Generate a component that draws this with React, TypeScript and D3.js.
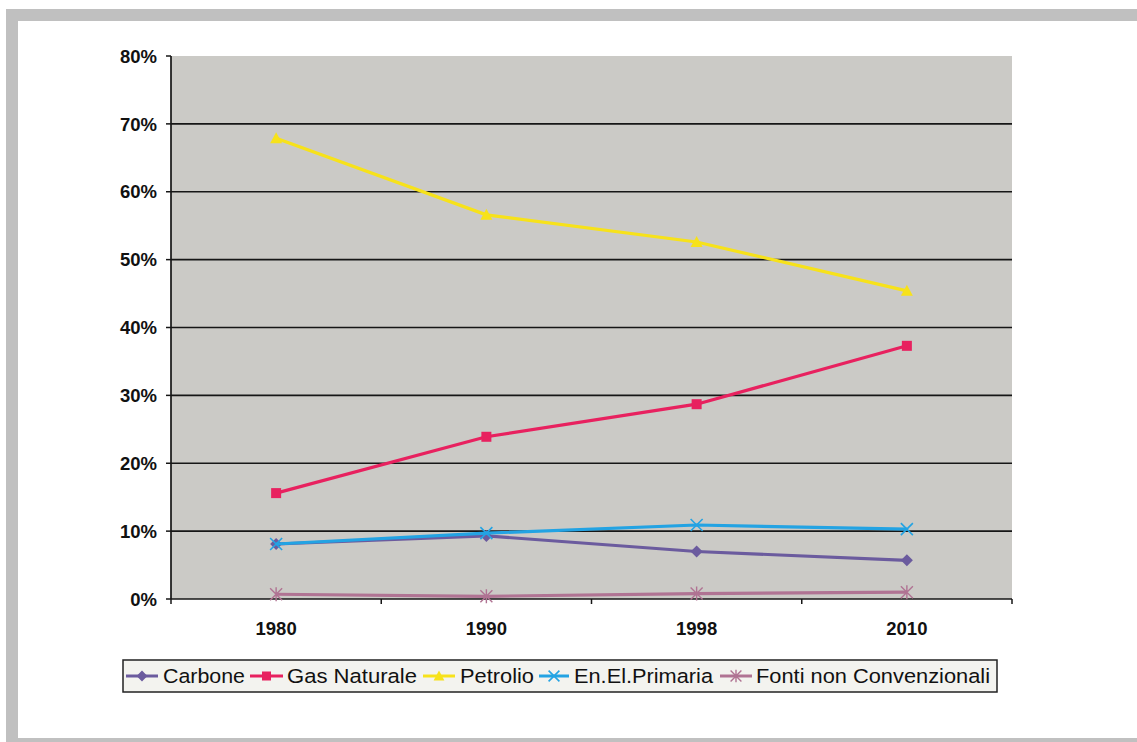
import React from "react";
import * as d3 from "d3";

// Quota delle fonti energetiche per anno
const years = ["1980", "1990", "1998", "2010"];
const carbone = [0.081, 0.093, 0.07, 0.057];
const gasNaturale = [0.156, 0.239, 0.287, 0.373];
const petrolio = [0.679, 0.566, 0.526, 0.454];
const enElPrimaria = [0.081, 0.097, 0.109, 0.103];
const fontiNonConv = [0.007, 0.004, 0.008, 0.01];
const yTicks = [0, 0.1, 0.2, 0.3, 0.4, 0.5, 0.6, 0.7, 0.8];

type Marker = "diamond" | "square" | "triangle" | "x" | "star";

const series: { name: string; values: number[]; color: string; marker: Marker }[] = [
  { name: "Carbone", values: carbone, color: "#6b5b9e", marker: "diamond" },
  { name: "Gas Naturale", values: gasNaturale, color: "#e8215f", marker: "square" },
  { name: "Petrolio", values: petrolio, color: "#f7e21a", marker: "triangle" },
  { name: "En.El.Primaria", values: enElPrimaria, color: "#23a3e3", marker: "x" },
  { name: "Fonti non Convenzionali", values: fontiNonConv, color: "#b07393", marker: "star" },
];

// legend layout: symbol start, symbol end, text start, text end
const legendSlots = [
  [126, 158, 163, 245],
  [250, 283, 287, 417],
  [423, 455, 460, 534],
  [539, 569, 574, 713],
  [720, 752, 756, 990],
];

function MarkerShape({ type, x, y, color, s = 1 }: { type: Marker; x: number; y: number; color: string; s?: number }) {
  switch (type) {
    case "diamond":
      return <path d={`M${x},${y - 6 * s}L${x + 6 * s},${y}L${x},${y + 6 * s}L${x - 6 * s},${y}Z`} fill={color} />;
    case "square":
      return <rect x={x - 5 * s} y={y - 5 * s} width={10 * s} height={10 * s} fill={color} />;
    case "triangle":
      return <path d={`M${x},${y - 6 * s}L${x + 6 * s},${y + 5 * s}L${x - 6 * s},${y + 5 * s}Z`} fill={color} />;
    case "x":
      return (
        <path
          d={`M${x - 6 * s},${y - 6 * s}L${x + 6 * s},${y + 6 * s}M${x - 6 * s},${y + 6 * s}L${x + 6 * s},${y - 6 * s}`}
          stroke={color}
          strokeWidth={1.6}
          fill="none"
        />
      );
    case "star":
      return (
        <path
          d={`M${x - 6 * s},${y - 6 * s}L${x + 6 * s},${y + 6 * s}M${x - 6 * s},${y + 6 * s}L${x + 6 * s},${y - 6 * s}M${x},${y - 7 * s}L${x},${y + 7 * s}`}
          stroke={color}
          strokeWidth={1.4}
          fill="none"
        />
      );
  }
}

export default function App() {
  const W = 1137;
  const H = 742;
  const left = 171;
  const right = 1012;
  const top = 56;
  const bottom = 599;

  const x = d3.scaleBand<string>().domain(years).range([left, right]);
  const y = d3.scaleLinear().domain([0, 0.8]).range([bottom, top]);
  const cx = (k: string) => (x(k) as number) + x.bandwidth() / 2;
  const line = d3
    .line<number>()
    .x((_, i) => cx(years[i]))
    .y((v) => y(v));

  const fmt = d3.format(".0%");
  const font = "'Liberation Sans', Arial, sans-serif";

  return (
    <svg width={W} height={H} style={{ position: "absolute", left: 0, top: 0 }} fontFamily={font}>
      <rect x={0} y={0} width={W} height={H} fill="#ffffff" />
      {/* cornice grigia */}
      <rect x={6} y={9} width={W - 6} height={12} fill="#c0c0c0" />
      <rect x={6} y={9} width={12} height={H - 9} fill="#c0c0c0" />
      <rect x={6} y={738} width={W - 6} height={4} fill="#c0c0c0" />

      {/* area del grafico */}
      <rect x={left} y={top} width={right - left} height={bottom - top} fill="#cbcac6" />
      {yTicks.slice(1, -1).map((t) => (
        <line key={t} x1={left} x2={right} y1={y(t)} y2={y(t)} stroke="#161616" strokeWidth={1.7} />
      ))}
      {/* assi */}
      <line x1={left} x2={left} y1={top} y2={bottom} stroke="#161616" strokeWidth={1.7} />
      <line x1={left} x2={right} y1={bottom} y2={bottom} stroke="#161616" strokeWidth={1.7} />
      {yTicks.map((t) => (
        <g key={t}>
          <line x1={left - 5} x2={left} y1={y(t)} y2={y(t)} stroke="#161616" strokeWidth={1.5} />
          <text
            x={157}
            y={y(t)}
            dy="0.36em"
            textAnchor="end"
            fontSize={18.5}
            fontWeight="bold"
            fill="#111"
          >
            {fmt(t)}
          </text>
        </g>
      ))}
      {years.map((yr, i) => (
        <g key={yr}>
          <line
            x1={(x(yr) as number) + x.bandwidth()}
            x2={(x(yr) as number) + x.bandwidth()}
            y1={bottom}
            y2={bottom + 5}
            stroke="#161616"
            strokeWidth={1.5}
          />
          {i === 0 && <line x1={left} x2={left} y1={bottom} y2={bottom + 5} stroke="#161616" strokeWidth={1.5} />}
          <text x={cx(yr)} y={635} textAnchor="middle" fontSize={18.5} fontWeight="bold" fill="#111">
            {yr}
          </text>
        </g>
      ))}

      {/* serie */}
      {series.map((s) => (
        <g key={s.name}>
          <path d={line(s.values) as string} fill="none" stroke={s.color} strokeWidth={3.2} />
          {s.values.map((v, i) => (
            <MarkerShape key={i} type={s.marker} x={cx(years[i])} y={y(v)} color={s.color} />
          ))}
        </g>
      ))}

      {/* legenda */}
      <rect x={123} y={660} width={874} height={32} fill="#f3f3ef" stroke="#222" strokeWidth={1.5} />
      {series.map((s, i) => {
        const [l0, l1, t0, t1] = legendSlots[i];
        const my = 676;
        return (
          <g key={s.name}>
            <line x1={l0} x2={l1} y1={my} y2={my} stroke={s.color} strokeWidth={3} />
            <MarkerShape type={s.marker} x={(l0 + l1) / 2} y={my} color={s.color} s={0.9} />
            <text
              x={t0}
              y={my}
              dy="0.36em"
              fontSize={20.5}
              fill="#111"
              textLength={t1 - t0}
              lengthAdjust="spacingAndGlyphs"
            >
              {s.name}
            </text>
          </g>
        );
      })}
    </svg>
  );
}
